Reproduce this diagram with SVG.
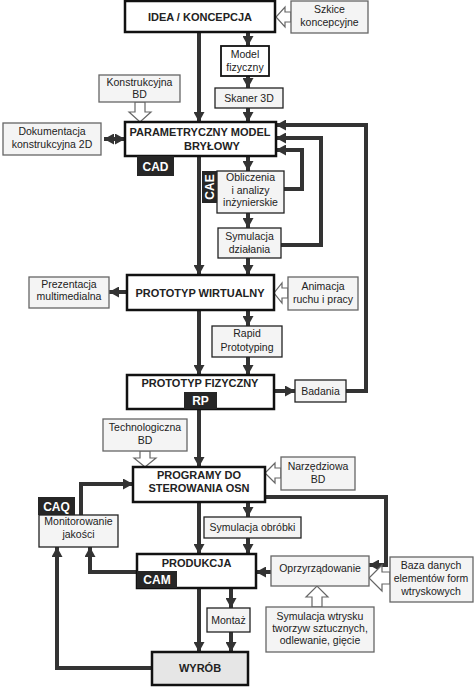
<svg xmlns="http://www.w3.org/2000/svg" width="474" height="688" viewBox="0 0 474 688">
<defs>
<marker id="ah" markerUnits="userSpaceOnUse" markerWidth="11" markerHeight="11" refX="10" refY="5.5" orient="auto"><path d="M0,0 L10,5.5 L0,11 z" fill="#333"/></marker>
<marker id="ahs" markerUnits="userSpaceOnUse" markerWidth="11" markerHeight="11" refX="0" refY="5.5" orient="auto"><path d="M10,0 L0,5.5 L10,11 z" fill="#333"/></marker>
<style>
.main{fill:#fff;stroke:#111;stroke-width:2.5}
.sec{fill:#f4f4f4;stroke:#666;stroke-width:1.3}
.prod{fill:#e6e6e6;stroke:#111;stroke-width:2.5}
.tag{fill:#262626}
.c{fill:none;stroke:#333;stroke-width:4;marker-end:url(#ah)}
.h{fill:#fff;stroke:#666;stroke-width:1.2}
text{font-family:"Liberation Sans",Arial,sans-serif;text-anchor:middle;fill:#222}
.b{font-weight:bold;font-size:11px}
.t{font-size:10.5px}
.w{font-weight:bold;font-size:12px;fill:#fff}
</style>
</defs>
<rect width="474" height="688" fill="#fff"/>

<g id="connectors">
<path class="c" d="M199,32 V122"/>
<path class="c" d="M248,32 V46"/>
<path class="c" d="M248,76 V88"/>
<path class="c" d="M248,108 V122"/>
<path class="c" d="M104,139 H125" style="marker-start:url(#ahs)"/>
<path class="c" d="M199,156 V275"/>
<path class="c" d="M248,156 V171"/>
<path class="c" d="M248,213 V228"/>
<path class="c" d="M284,189 H302 V150 H276"/>
<path class="c" d="M281,245 H321 V138 H276"/>
<path class="c" d="M346,391 H366 V125 H276"/>
<path class="c" d="M248,258 V275"/>
<path class="c" d="M127,292 H109"/>
<path class="c" d="M199,310 V375"/>
<path class="c" d="M248,310 V326"/>
<path class="c" d="M248,357 V375"/>
<path class="c" d="M274,391 H295"/>
<path class="c" d="M199,409 V467"/>
<path class="c" d="M81,515 V484 H133"/>
<path class="c" d="M265,497 H386 V565 H369"/>
<path class="c" d="M248,502 V517"/>
<path class="c" d="M248,538 V554"/>
<path class="c" d="M199,502 V554"/>
<path class="c" d="M271,572 H256"/>
<path class="c" d="M137,572 H90 V547"/>
<path class="c" d="M152,668 H57 V547"/>
<path class="c" d="M199,588 V652"/>
<path class="c" d="M231,588 V608"/>
<path class="c" d="M231,632 V652"/>
<polygon class="h" points="291,12 285,12 285,7 276,17 285,27 285,22 291,22"/>
<polygon class="h" points="135,102 145,102 145,112 151,112 140,122 129,112 135,112"/>
<polygon class="h" points="288,288 282,288 282,283 274,293 282,303 282,298 288,298"/>
<polygon class="h" points="140,451 150,451 150,458 156,458 145,467 134,458 140,458"/>
<polygon class="h" points="281,468 275,468 275,463 265,473 275,483 275,478 281,478"/>
<polygon class="h" points="390,572 382,572 382,565 369,578 382,591 382,584 390,584"/>
<polygon class="h" points="312,607 322,607 322,597 328,597 317,586 306,597 312,597"/>
</g>

<g id="idea"><rect class="main" x="125" y="1" width="150" height="31"/><text class="b" x="200" y="21">IDEA / KONCEPCJA</text></g>
<g id="szkice"><rect class="sec" x="291" y="1" width="77" height="32"/><text class="t" x="329.5" y="13">Szkice</text><text class="t" x="329.5" y="26">koncepcyjne</text></g>
<g id="model"><rect class="main" style="stroke-width:1.8" x="221" y="46" width="48" height="30"/><text class="t" x="245" y="58">Model</text><text class="t" x="245" y="71">fizyczny</text></g>
<g id="skaner"><rect class="sec" style="stroke:#222" x="215" y="88" width="68" height="20"/><text class="t" x="249" y="102">Skaner 3D</text></g>
<g id="konstrukcyjna"><rect class="sec" x="99" y="75" width="81" height="27"/><text class="t" x="139.5" y="86">Konstrukcyjna</text><text class="t" x="139.5" y="98">BD</text></g>
<g id="param"><rect class="main" x="125" y="122" width="151" height="34"/><text class="b" x="200" y="136">PARAMETRYCZNY MODEL</text><text class="b" x="212" y="150">BRYŁOWY</text></g>
<g id="cad"><rect class="tag" x="137" y="156" width="37" height="20"/><text class="w" x="155.5" y="171">CAD</text></g>
<g id="dokumentacja"><rect class="sec" x="3" y="123" width="98" height="32"/><text class="t" x="52" y="135">Dokumentacja</text><text class="t" x="52" y="148">konstrukcyjna 2D</text></g>
<g id="obliczenia"><rect class="sec" style="stroke:#222" x="217" y="171" width="67" height="42"/><text class="t" x="250.5" y="181">Obliczenia</text><text class="t" x="250.5" y="194">i analizy</text><text class="t" x="250.5" y="206">inżynierskie</text></g>
<g id="cae"><rect class="tag" x="202" y="171" width="15" height="32"/><text class="w" transform="translate(213.5,187) rotate(-90)">CAE</text></g>
<g id="symulacja"><rect class="sec" style="stroke:#222" x="218" y="228" width="63" height="30"/><text class="t" x="249.5" y="240">Symulacja</text><text class="t" x="249.5" y="253">działania</text></g>
<g id="pw"><rect class="main" x="127" y="275" width="147" height="35"/><text class="b" x="200" y="297">PROTOTYP WIRTUALNY</text></g>
<g id="prezentacja"><rect class="sec" x="29" y="277" width="80" height="31"/><text class="t" x="69" y="288">Prezentacja</text><text class="t" x="69" y="300">multimedialna</text></g>
<g id="animacja"><rect class="sec" x="288" y="277" width="70" height="33"/><text class="t" x="323" y="290">Animacja</text><text class="t" x="323" y="303">ruchu i pracy</text></g>
<g id="rapid"><rect class="sec" style="stroke:#222" x="212" y="326" width="70" height="31"/><text class="t" x="247" y="337">Rapid</text><text class="t" x="247" y="351">Prototyping</text></g>
<g id="pf"><rect class="main" x="127" y="375" width="147" height="34"/><text class="b" x="200" y="387">PROTOTYP FIZYCZNY</text></g>
<g id="rp"><rect class="tag" x="184" y="392" width="33" height="17"/><text class="w" x="200.5" y="405">RP</text></g>
<g id="badania"><rect class="sec" style="stroke:#222" x="295" y="380" width="51" height="22"/><text class="t" x="320.5" y="395">Badania</text></g>
<g id="technologiczna"><rect class="sec" x="103" y="419" width="84" height="32"/><text class="t" x="145" y="431">Technologiczna</text><text class="t" x="145" y="444">BD</text></g>
<g id="programy"><rect class="main" x="133" y="467" width="132" height="35"/><text class="b" x="199" y="479">PROGRAMY DO</text><text class="b" x="199" y="492">STEROWANIA OSN</text></g>
<g id="narzedziowa"><rect class="sec" x="281" y="457" width="74" height="33"/><text class="t" x="318" y="470">Narzędziowa</text><text class="t" x="318" y="483">BD</text></g>
<g id="caq"><rect class="tag" x="38" y="497" width="37" height="18"/><text class="w" x="56.5" y="511">CAQ</text></g>
<g id="monitorowanie"><rect class="sec" style="stroke:#222" x="39" y="515" width="79" height="32"/><text class="t" x="78.5" y="525">Monitorowanie</text><text class="t" x="78.5" y="538">jakości</text></g>
<g id="symobrobki"><rect class="sec" style="stroke:#222" x="204" y="517" width="97" height="21"/><text class="t" x="252.5" y="531">Symulacja obróbki</text></g>
<g id="produkcja"><rect class="main" x="137" y="554" width="119" height="34"/><text class="b" x="196.5" y="567">PRODUKCJA</text></g>
<g id="cam"><rect class="tag" x="137" y="571" width="40" height="17"/><text class="w" x="157" y="584">CAM</text></g>
<g id="oprzyrzadowanie"><rect class="sec" x="271" y="556" width="98" height="30"/><text class="t" x="320" y="572">Oprzyrządowanie</text></g>
<g id="baza"><rect class="sec" x="390" y="557" width="83" height="45"/><text class="t" x="431" y="569">Baza danych</text><text class="t" x="431" y="582">elementów form</text><text class="t" x="431" y="595">wtryskowych</text></g>
<g id="symwtrysku"><rect class="sec" x="266" y="607" width="108" height="45"/><text class="t" x="320" y="620">Symulacja wtrysku</text><text class="t" x="320" y="632">tworzyw sztucznych,</text><text class="t" x="320" y="644">odlewanie, gięcie</text></g>
<g id="montaz"><rect class="sec" style="stroke:#222" x="207" y="608" width="43" height="24"/><text class="t" x="228.5" y="624">Montaż</text></g>
<g id="wyrob"><rect class="prod" x="152" y="652" width="96" height="33"/><text class="b" x="200" y="672">WYRÓB</text></g>
</svg>
